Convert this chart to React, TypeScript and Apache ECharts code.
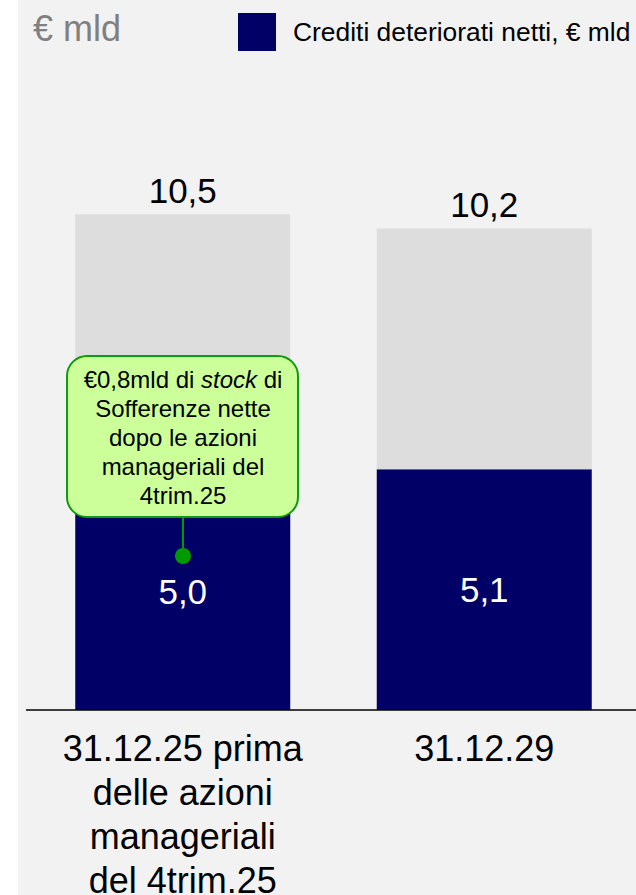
import React, { useEffect, useRef } from "react";
import * as echarts from "echarts";

const categories = ["31.12.25 prima\ndelle azioni\nmanageriali\ndel 4trim.25", "31.12.29"];
const netNpl = [5.0, 5.1];
const remainder = [5.5, 5.1];
const totals = [10.5, 10.2];
const unitLabel = "€ mld";
const legendLabel = "Crediti deteriorati netti, € mld";
const calloutText = "€0,8mld di {i|stock} di\nSofferenze nette\ndopo le azioni\nmanageriali del\n4trim.25";

const FONT = "'Liberation Sans', Arial, sans-serif";
const fmt = (v: number) => v.toFixed(1).replace(".", ",");

export default function App() {
  const ref = useRef<HTMLDivElement>(null);
  useEffect(() => {
    if (!ref.current) return;
    const chart = echarts.init(ref.current, undefined, { renderer: "svg" });
    chart.setOption({
      animation: false,
      textStyle: { fontFamily: FONT },
      title: {
        text: unitLabel,
        left: 28,
        top: 5,
        textStyle: { fontFamily: FONT, fontSize: 36, fontWeight: "normal", color: "#808080" },
      },
      legend: {
        data: [legendLabel],
        left: 233,
        top: 8,
        itemWidth: 38,
        itemHeight: 38,
        icon: "rect",
        textStyle: { fontFamily: FONT, fontSize: 26.4, color: "#000", padding: [0, 0, 0, 12] },
      },
      grid: { left: 32, right: 1, top: 49, bottom: 185, outerBoundsMode: "none", containLabel: false },
      xAxis: {
        type: "category",
        data: categories,
        axisLine: { show: false },
        axisTick: { show: false },
        axisLabel: {
          interval: 0,
          margin: 16,
          fontFamily: FONT,
          fontSize: 36,
          lineHeight: 44,
          color: "#000",
          align: "center",
        },
      },
      yAxis: { type: "value", min: 0, max: 14, show: false, splitLine: { show: false } },
      series: [
        {
          name: legendLabel,
          type: "bar",
          stack: "t",
          data: netNpl,
          barWidth: 215,
          itemStyle: { color: "#000066" },
          label: {
            show: true,
            position: "inside",
            formatter: (p: any) => fmt(p.value),
            color: "#fff",
            fontFamily: FONT,
            fontSize: 35,
          },
        },
        {
          name: "rest",
          type: "bar",
          stack: "t",
          data: remainder,
          barWidth: 215,
          itemStyle: { color: "#dddddd" },
          label: {
            show: true,
            position: "top",
            distance: 6,
            formatter: (p: any) => fmt(totals[p.dataIndex]),
            color: "#000",
            fontFamily: FONT,
            fontSize: 35,
          },
        },
      ],
      graphic: [
        {
          type: "line",
          shape: { x1: 26, y1: 710, x2: 636, y2: 710 },
          style: { stroke: "#000", lineWidth: 1.5 },
          z: 10,
        },
        {
          type: "line",
          shape: { x1: 183, y1: 517, x2: 183, y2: 556 },
          style: { stroke: "#009900", lineWidth: 2 },
          z: 10,
        },
        {
          type: "circle",
          shape: { cx: 183, cy: 556, r: 8 },
          style: { fill: "#009900" },
          z: 10,
        },
        {
          type: "rect",
          shape: { x: 67, y: 356, width: 231, height: 161, r: 20 },
          style: { fill: "#ccff99", stroke: "#119911", lineWidth: 2 },
          z: 10,
        },
        {
          type: "text",
          x: 183,
          y: 437,
          z: 11,
          style: {
            text: calloutText,
            fontFamily: FONT,
            fontSize: 24,
            lineHeight: 29,
            fill: "#000",
            align: "center",
            verticalAlign: "middle",
            rich: {
              i: { fontStyle: "italic", fontFamily: FONT, fontSize: 24, lineHeight: 29, fill: "#000" },
            },
          },
        },
      ],
    });
    return () => chart.dispose();
  }, []);
  return (
    <div
      style={{
        position: "absolute",
        left: 0,
        top: 0,
        width: 636,
        height: 895,
        background: "linear-gradient(to right, #ffffff 18px, #f2f2f2 18px)",
      }}
    >
      <div ref={ref} style={{ width: 636, height: 895 }} />
    </div>
  );
}
